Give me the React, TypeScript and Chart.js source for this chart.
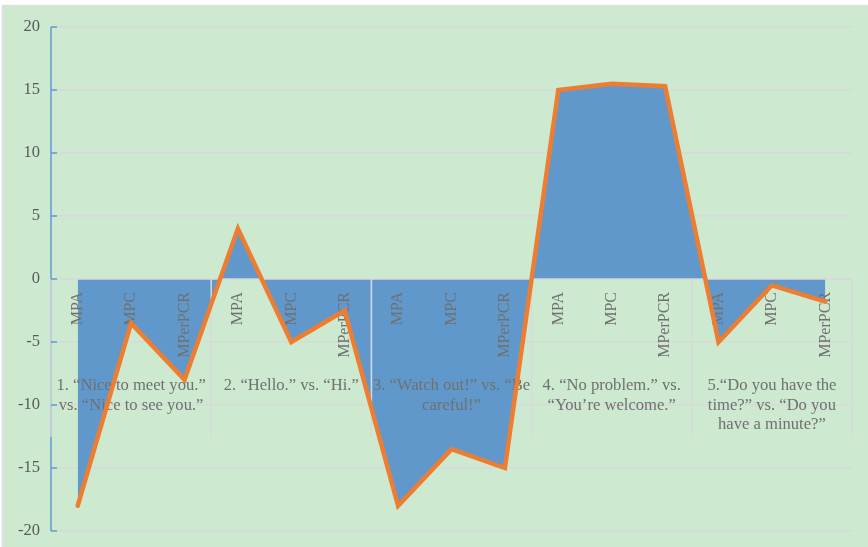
import { useEffect, useRef } from "react";
import { Chart, registerables } from "chart.js";

Chart.register(...registerables);

// Sub-categories under each expression pair
const categories = [
  "MPA", "MPC", "MPerPCR",
  "MPA", "MPC", "MPerPCR",
  "MPA", "MPC", "MPerPCR",
  "MPA", "MPC", "MPerPCR",
  "MPA", "MPC", "MPerPCR",
];

// Group captions, already broken into lines
const groupLabels: string[][] = [
  ["1. \u201cNice to meet you.\u201d", "vs. \u201cNice to see you.\u201d"],
  ["2. \u201cHello.\u201d vs. \u201cHi.\u201d"],
  ["3. \u201cWatch out!\u201d vs. \u201cBe", "careful!\u201d"],
  ["4. \u201cNo problem.\u201d vs.", "\u201cYou\u2019re welcome.\u201d"],
  ["5.\u201cDo you have the", "time?\u201d vs. \u201cDo you", "have a minute?\u201d"],
];

const values = [-18, -3.5, -8, 4, -5, -2.5, -18, -13.5, -15, 15, 15.5, 15.3, -5, -0.5, -1.8];

const yMin = -20;
const yMax = 20;
const yStep = 5;

const SERIF = "'Liberation Serif', 'Times New Roman', serif";
const LINE_INDEX = 0;

const panelPlugin = {
  id: "panel",
  beforeDraw(chart: any) {
    const { ctx, width, height } = chart;
    ctx.save();
    ctx.fillStyle = "#ffffff";
    ctx.fillRect(0, 0, width, height);
    ctx.fillStyle = "#cde9d0";
    ctx.fillRect(3, 6, width - 3, height - 6);
    ctx.strokeStyle = "#dedede";
    ctx.lineWidth = 1.5;
    ctx.beginPath();
    ctx.moveTo(2.5, height);
    ctx.lineTo(2.5, 5.5);
    ctx.lineTo(width, 5.5);
    ctx.stroke();
    ctx.restore();
  },
  beforeDatasetDraw(chart: any, args: any) {
    if (args.index !== LINE_INDEX) return;
    const { ctx } = chart;
    const x = chart.scales.x;
    const y = chart.scales.y;
    const y0 = y.getPixelForValue(0);
    const left = x.getPixelForValue(-0.5);
    const right = x.getPixelForValue(categories.length - 0.5);
    const sepBottom = y0 + 158;

    ctx.save();
    // category axis line at zero
    ctx.strokeStyle = "#d9d9d9";
    ctx.lineWidth = 1.5;
    ctx.beginPath();
    ctx.moveTo(left, y0);
    ctx.lineTo(right, y0);
    ctx.stroke();

    // group separators
    for (let g = 0; g <= groupLabels.length; g++) {
      const px = x.getPixelForValue(g * 3 - 0.5);
      ctx.beginPath();
      ctx.moveTo(px, y0);
      ctx.lineTo(px, sepBottom);
      ctx.stroke();
    }

    // rotated sub-category labels
    ctx.fillStyle = "#707070";
    ctx.font = `16px ${SERIF}`;
    categories.forEach((c, i) => {
      const px = x.getPixelForValue(i);
      ctx.save();
      ctx.translate(px, y0 + 13);
      ctx.rotate(-Math.PI / 2);
      ctx.textAlign = "right";
      ctx.textBaseline = "middle";
      ctx.fillText(c, 0, 0);
      ctx.restore();
    });

    // group captions
    ctx.font = `16.6px ${SERIF}`;
    ctx.textAlign = "center";
    ctx.textBaseline = "middle";
    groupLabels.forEach((lines, g) => {
      const cx = x.getPixelForValue(g * 3 + 1);
      lines.forEach((ln, k) => {
        ctx.fillText(ln, cx, y0 + 107 + k * 19.5);
      });
    });
    ctx.restore();
  },
  afterDatasetsDraw(chart: any) {
    const { ctx, chartArea } = chart;
    const y = chart.scales.y;
    const y0 = y.getPixelForValue(0);
    const ax = chartArea.left;
    ctx.save();
    ctx.lineWidth = 1.5;
    ctx.strokeStyle = "#5b9bd5";
    ctx.beginPath();
    ctx.moveTo(ax, chartArea.top);
    ctx.lineTo(ax, chartArea.bottom);
    ctx.stroke();
    ctx.strokeStyle = "#d9d9d9";
    ctx.beginPath();
    ctx.moveTo(ax, y0);
    ctx.lineTo(ax, y0 + 158);
    ctx.stroke();
    ctx.strokeStyle = "#5b9bd5";
    for (let v = yMin; v <= yMax; v += yStep) {
      const py = y.getPixelForValue(v);
      ctx.beginPath();
      ctx.moveTo(ax, py);
      ctx.lineTo(ax + 6, py);
      ctx.stroke();
    }
    ctx.restore();
  },
};

export default function App() {
  const canvasRef = useRef<HTMLCanvasElement | null>(null);

  useEffect(() => {
    document.body.style.margin = "0";
    const canvas = canvasRef.current;
    if (!canvas) return;
    const chart = new Chart(canvas, {
      type: "line",
      data: {
        labels: categories,
        datasets: [
          {
            label: "line",
            data: values,
            borderColor: "#ed7d31",
            borderWidth: 4.5,
            borderCapStyle: "round",
            borderJoinStyle: "miter",
            pointRadius: 0,
            tension: 0,
            fill: false,
            order: 0,
          },
          {
            label: "area",
            data: values,
            borderWidth: 0,
            borderColor: "rgba(0,0,0,0)",
            backgroundColor: "#6198cb",
            pointRadius: 0,
            tension: 0,
            fill: "origin",
            order: 1,
          },
        ],
      },
      options: {
        responsive: false,
        devicePixelRatio: 1,
        animation: false,
        layout: { padding: { left: 0, top: 27, right: 16, bottom: 16 } },
        plugins: {
          legend: { display: false },
          tooltip: { enabled: false },
        },
        scales: {
          x: {
            type: "category",
            display: false,
            offset: true,
          },
          y: {
            min: yMin,
            max: yMax,
            afterFit: (s: any) => {
              s.width = 51;
            },
            ticks: {
              stepSize: yStep,
              color: "#595959",
              padding: 0,
              font: { family: SERIF, size: 16.5 },
            },
            grid: {
              color: "#d9d9d9",
              lineWidth: 1.5,
              drawTicks: true,
              tickLength: 11,
              tickColor: "rgba(0,0,0,0)",
            },
            border: { display: false },
          },
        },
      },
      plugins: [panelPlugin],
    });
    return () => chart.destroy();
  }, []);

  return <canvas ref={canvasRef} width={868} height={547} style={{ display: "block" }} />;
}
